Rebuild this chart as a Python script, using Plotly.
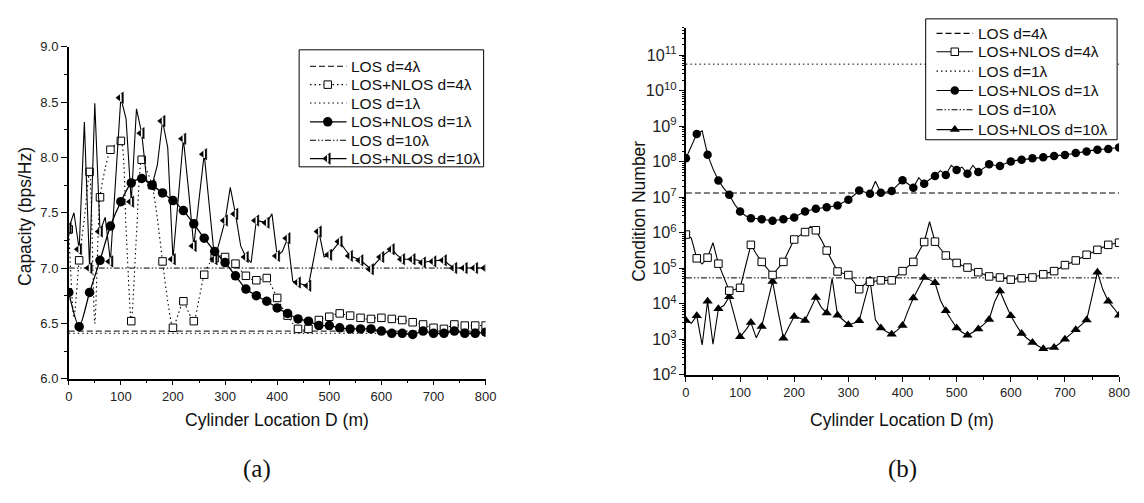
import plotly.graph_objects as go

# ---------------- data ----------------
X10 = list(range(0, 801, 10))
X20 = list(range(0, 801, 20))
X_TICKS = [0, 100, 200, 300, 400, 500, 600, 700, 800]

# (a) Capacity (bps/Hz)
cap_los_4 = 6.43
cap_los_1 = 6.41
cap_los_10 = 7.00

cap_nlos_4 = [7.35, 6.55, 7.07, 7.45, 7.87, 6.50, 7.64, 7.90, 8.07, 8.12,
              8.15, 7.35, 6.52, 7.30, 7.98, 7.88, 7.75, 7.45, 7.06, 6.70,
              6.46, 6.58, 6.70, 6.60, 6.52, 6.72, 6.94, 7.04, 7.09, 7.11,
              7.10, 7.07, 7.04, 6.98, 6.93, 6.90, 6.89, 6.90, 6.91, 6.83,
              6.73, 6.64, 6.57, 6.50, 6.45, 6.44, 6.45, 6.49, 6.53, 6.55,
              6.56, 6.58, 6.59, 6.58, 6.57, 6.56, 6.55, 6.54, 6.54, 6.55,
              6.55, 6.55, 6.54, 6.54, 6.53, 6.52, 6.51, 6.50, 6.49, 6.47,
              6.46, 6.45, 6.45, 6.47, 6.49, 6.48, 6.48, 6.48, 6.48, 6.48,
              6.48]

cap_nlos_1 = [6.78, 6.47, 6.78, 7.07, 7.38, 7.60, 7.77, 7.81, 7.75, 7.68,
              7.61, 7.52, 7.40, 7.27, 7.15, 7.05, 6.93, 6.81, 6.75, 6.70,
              6.64, 6.59, 6.54, 6.52, 6.48, 6.48, 6.46, 6.45, 6.45, 6.45,
              6.43, 6.41, 6.41, 6.40, 6.43, 6.41, 6.41, 6.43, 6.41, 6.41,
              6.42]

cap_nlos_10 = [7.36, 7.50, 7.17, 8.32, 7.00, 8.49, 7.33, 7.46, 7.06, 7.80,
               8.54, 8.35, 7.60, 8.44, 8.22, 7.78, 7.75, 7.93, 8.33, 8.09,
               7.08, 7.62, 8.17, 7.70, 7.20, 7.62, 8.03, 7.55, 7.08, 7.25,
               7.43, 7.73, 7.49, 7.20, 7.10, 7.05, 7.43, 7.42, 7.41, 7.49,
               7.11, 7.15, 7.27, 6.88, 6.87, 6.85, 6.84, 7.08, 7.33, 7.10,
               7.12, 7.18, 7.24, 7.17, 7.11, 7.09, 7.07, 7.03, 6.99, 7.05,
               7.10, 7.14, 7.17, 7.12, 7.08, 7.08, 7.08, 7.07, 7.05, 7.06,
               7.06, 7.07, 7.07, 7.03, 7.00, 7.00, 7.00, 7.00, 7.00, 7.00,
               7.00]

# (b) Condition number, given as log10 exponents
cond_los_4_log = 7.12
cond_los_1_log = 10.75
cond_los_10_log = 4.73

cond_nlos_4_log = [5.95, 5.85, 5.28, 5.12, 5.30, 5.72, 5.13, 4.75, 4.37, 4.40,
                   4.45, 5.05, 5.66, 5.40, 5.18, 5.00, 4.81, 5.00, 5.18, 5.50,
                   5.81, 5.92, 6.02, 6.18, 6.07, 5.80, 5.50, 5.20, 4.91, 4.86,
                   4.81, 4.62, 4.41, 4.55, 4.62, 4.64, 4.66, 4.66, 4.66, 4.79,
                   4.92, 5.05, 5.18, 5.46, 5.74, 6.31, 5.75, 5.55, 5.36, 5.25,
                   5.15, 5.08, 5.02, 4.95, 4.89, 4.83, 4.77, 4.75, 4.74, 4.71,
                   4.68, 4.70, 4.72, 4.73, 4.74, 4.78, 4.83, 4.87, 4.92, 5.00,
                   5.09, 5.15, 5.22, 5.30, 5.38, 5.45, 5.52, 5.59, 5.66, 5.69,
                   5.72]

cond_nlos_1_log = [8.10, 8.45, 8.78, 8.87, 8.20, 7.80, 7.47, 7.25, 7.07, 6.80,
                   6.60, 6.48, 6.41, 6.40, 6.38, 6.35, 6.34, 6.36, 6.38, 6.40,
                   6.43, 6.52, 6.60, 6.64, 6.68, 6.70, 6.72, 6.75, 6.77, 6.85,
                   6.93, 7.05, 7.19, 7.15, 7.10, 7.45, 7.13, 7.15, 7.18, 7.33,
                   7.48, 7.38, 7.27, 7.55, 7.38, 7.50, 7.60, 7.75, 7.63, 7.90,
                   7.77, 7.85, 7.66, 7.90, 7.71, 7.82, 7.93, 7.90, 7.88, 7.95,
                   8.01, 8.04, 8.06, 8.08, 8.10, 8.12, 8.13, 8.15, 8.16, 8.18,
                   8.19, 8.22, 8.25, 8.27, 8.29, 8.32, 8.34, 8.35, 8.36, 8.38,
                   8.40]

cond_nlos_10_log = [3.53, 3.45, 3.66, 2.84, 4.07, 2.86, 3.86, 3.95, 4.20, 3.60,
                    3.07, 3.25, 3.47, 3.04, 3.36, 4.00, 4.63, 3.80, 3.03, 3.35,
                    3.64, 3.60, 3.53, 3.85, 4.18, 3.90, 3.74, 4.72, 3.68, 3.55,
                    3.41, 3.45, 3.52, 4.10, 4.66, 3.55, 3.32, 3.22, 3.14, 3.25,
                    3.39, 3.80, 4.16, 4.45, 4.74, 4.68, 4.59, 4.10, 3.80, 3.55,
                    3.32, 3.20, 3.11, 3.20, 3.29, 3.42, 3.56, 4.05, 4.36, 4.00,
                    3.66, 3.40, 3.16, 3.03, 2.91, 2.82, 2.73, 2.75, 2.77, 2.88,
                    3.00, 3.14, 3.27, 3.40, 3.54, 4.20, 4.89, 4.40, 4.07, 3.88,
                    3.68]

NAMES = ["LOS d=4\u03bb", "LOS+NLOS d=4\u03bb", "LOS d=1\u03bb",
         "LOS+NLOS d=1\u03bb", "LOS d=10\u03bb", "LOS+NLOS d=10\u03bb"]

# ---------------- styles ----------------
FONT = "Liberation Sans, Arial, sans-serif"
DASH = "6px,3px"
DOT = "1.5px,3px"
DASHDOTDOT = "6px,2px,1.5px,2px,1.5px,2px"

sq = dict(symbol="square", size=7.5, color="white", line=dict(color="black", width=1))
circ_a = dict(symbol="circle", size=9.5, color="black", line=dict(color="black", width=0))
tri_l = dict(symbol="triangle-left", size=10, color="black", line=dict(color="black", width=0.5))
tri_l_stripe = dict(symbol="line-ns", size=5.5, color="white", line=dict(color="white", width=1.6))
circ_b = dict(symbol="circle", size=8.5, color="black", line=dict(color="black", width=0))
tri_u = dict(symbol="triangle-up", size=9, color="black", line=dict(color="black", width=0))


def pow10(vals):
    return [10 ** v for v in vals]


def every_other(xs, ys):
    return [y if x % 20 == 0 else None for x, y in zip(xs, ys)]


fig = go.Figure()


def add_los(xa, ya, xs, val, dash):
    fig.add_trace(go.Scatter(x=[xs[0], xs[-1]], y=[val, val], mode="lines",
                             line=dict(color="black", width=1, dash=dash),
                             xaxis=xa, yaxis=ya, showlegend=False, hoverinfo="skip"))


def add_nlos(xa, ya, xs, ys, dash, marker, spline=False, overlay=None, width=1.1):
    shape = "spline" if spline else "linear"
    fig.add_trace(go.Scatter(x=xs, y=ys, mode="lines", showlegend=False,
                             line=dict(color="black", width=width, dash=dash, shape=shape,
                                       smoothing=0.7),
                             xaxis=xa, yaxis=ya, hoverinfo="skip"))
    marked = every_other(xs, ys)
    fig.add_trace(go.Scatter(x=xs, y=marked, mode="markers", marker=marker,
                             xaxis=xa, yaxis=ya, showlegend=False))
    if overlay is not None:
        fig.add_trace(go.Scatter(x=xs, y=marked, mode="markers", marker=overlay,
                                 xaxis=xa, yaxis=ya, showlegend=False, hoverinfo="skip"))


# ---- panel (a) ----
add_los("x", "y", X10, cap_los_4, DASH)
add_los("x", "y", X10, cap_los_1, DOT)
add_los("x", "y", X10, cap_los_10, DASHDOTDOT)
add_nlos("x", "y", X10, cap_nlos_4, DOT, sq, spline=True)
add_nlos("x", "y", X10, cap_nlos_10, "solid", tri_l, overlay=tri_l_stripe)
add_nlos("x", "y", X20, cap_nlos_1, "solid", circ_a, spline=True, width=1.3)

# ---- panel (b) ----
add_los("x2", "y2", X10, 10 ** cond_los_4_log, DASH)
add_los("x2", "y2", X10, 10 ** cond_los_1_log, DOT)
add_los("x2", "y2", X10, 10 ** cond_los_10_log, DASHDOTDOT)
add_nlos("x2", "y2", X10, pow10(cond_nlos_10_log), "solid", tri_u)
add_nlos("x2", "y2", X10, pow10(cond_nlos_4_log), "solid", sq)
add_nlos("x2", "y2", X10, pow10(cond_nlos_1_log), "solid", circ_b)

# ---------------- layout geometry (window pixels) ----------------
# The page body has an 8px margin on every side; size the figure so the page
# exactly fills the 1144x503 window and place everything in window pixels.
OFF = 8
W, H = 1144 - 2 * OFF, 503 - 2 * OFF


def px(v):
    return (v - OFF) / W


def py(v):
    return (H - (v - OFF)) / H


# ---------------- legends (drawn on a pixel-space overlay axis) ----------------
LEG_A = dict(box=(299, 44, 486, 165), rows=(61, 80, 99, 118.5, 137.5, 156.5),
             line=(310, 347), mark=328, text=350)
LEG_B = dict(box=(934, 12, 1128, 137), rows=(27, 46, 66, 86, 106, 126.5),
             line=(945, 982), mark=963.5, text=985)

leg_styles_a = [(DASH, None, None), (DOT, sq, None), (DOT, None, None),
                ("solid", circ_a, None), (DASHDOTDOT, None, None),
                ("solid", tri_l, tri_l_stripe)]
leg_styles_b = [(DASH, None, None), ("solid", sq, None), (DOT, None, None),
                ("solid", circ_b, None), (DASHDOTDOT, None, None),
                ("solid", tri_u, None)]

legend_annots = []


def draw_legend(geo, styles):
    x0, y0, x1, y1 = geo["box"]
    fig.add_trace(go.Scatter(x=[x0, x1, x1, x0, x0], y=[y0, y0, y1, y1, y0],
                             mode="lines", fill="toself", fillcolor="white",
                             line=dict(color="black", width=1),
                             xaxis="x3", yaxis="y3", showlegend=False, hoverinfo="skip"))
    for (dash, mk, ov), ry, name in zip(styles, geo["rows"], NAMES):
        lx0, lx1 = geo["line"]
        fig.add_trace(go.Scatter(x=[lx0, lx1], y=[ry, ry], mode="lines",
                                 line=dict(color="black", width=1.1, dash=dash),
                                 xaxis="x3", yaxis="y3", showlegend=False, hoverinfo="skip"))
        if mk is not None:
            fig.add_trace(go.Scatter(x=[geo["mark"]], y=[ry], mode="markers", marker=mk,
                                     xaxis="x3", yaxis="y3", showlegend=False,
                                     hoverinfo="skip"))
        if ov is not None:
            fig.add_trace(go.Scatter(x=[geo["mark"]], y=[ry], mode="markers", marker=ov,
                                     xaxis="x3", yaxis="y3", showlegend=False,
                                     hoverinfo="skip"))
        legend_annots.append(dict(text=name, x=geo["text"], y=ry, xref="x3", yref="y3",
                                  xanchor="left", yanchor="middle", showarrow=False,
                                  font=dict(family=FONT, size=15.5, color="#111")))


draw_legend(LEG_A, leg_styles_a)
draw_legend(LEG_B, leg_styles_b)

tickfont = dict(family=FONT, size=13, color="#222")
common_x = dict(range=[0, 800], tickvals=X_TICKS, showline=True, linecolor="black",
                linewidth=1.5, ticks="outside", ticklen=5, tickwidth=1.2, tickcolor="black",
                showgrid=False, zeroline=False, tickfont=tickfont,
                minor=dict(ticks="outside", ticklen=3, dtick=50, tickcolor="black",
                           tickwidth=1.2, showgrid=False))

fig.update_layout(
    width=W, height=H, margin=dict(l=0, r=0, t=0, b=0),
    paper_bgcolor="white", plot_bgcolor="rgba(0,0,0,0)",
    font=dict(family=FONT, color="#111"),
    showlegend=False,
    xaxis=dict(domain=[px(65.5), px(488)], anchor="y", **common_x),
    yaxis=dict(domain=[py(384), py(41)], anchor="x", range=[6, 9], dtick=0.5,
               tickformat=".1f", showline=True, linecolor="black", linewidth=1.5,
               ticks="outside", ticklen=6, tickwidth=1.2, tickcolor="black",
               showgrid=False, zeroline=False, tickfont=tickfont,
               minor=dict(ticks="outside", ticklen=3, dtick=0.25, tickcolor="black",
                          tickwidth=1.2, showgrid=False)),
    xaxis2=dict(domain=[px(691), px(1130)], anchor="y2", **common_x),
    yaxis2=dict(domain=[py(380), py(21)], anchor="x2", type="log", range=[2, 11.78],
                dtick=1, exponentformat="power", showexponent="all",
                showline=True, linecolor="black", linewidth=1.5,
                ticks="outside", ticklen=5, tickwidth=1.2, tickcolor="black",
                showgrid=False, zeroline=False, tickfont=tickfont,
                minor=dict(ticks="outside", ticklen=2.5, tickcolor="black",
                           tickwidth=1, showgrid=False)),
    xaxis3=dict(domain=[0, 1], anchor="y3", range=[OFF, OFF + W], visible=False,
                fixedrange=True),
    yaxis3=dict(domain=[0, 1], anchor="x3", range=[OFF + H, OFF], visible=False,
                fixedrange=True),
)

title_font = dict(family=FONT, size=17.5, color="#111")
annots = [
    dict(text="Capacity (bps/Hz)", x=px(21), y=py(216), textangle=-90, font=title_font),
    dict(text="Condition Number", x=px(644), y=py(211), textangle=-90, font=title_font),
    dict(text="Cylinder Location D (m)", x=px(277), y=py(427), font=title_font),
    dict(text="Cylinder Location D (m)", x=px(910), y=py(427), font=title_font),
    dict(text="(a)", x=px(256), y=py(477),
         font=dict(family="Liberation Serif, serif", size=25, color="#111")),
    dict(text="(b)", x=px(911), y=py(477),
         font=dict(family="Liberation Serif, serif", size=25, color="#111")),
]
for a in annots:
    fig.add_annotation(xref="paper", yref="paper", showarrow=False,
                       xanchor="center", yanchor="middle", **a)
for a in legend_annots:
    fig.add_annotation(**a)

fig.write_html("out.html")
